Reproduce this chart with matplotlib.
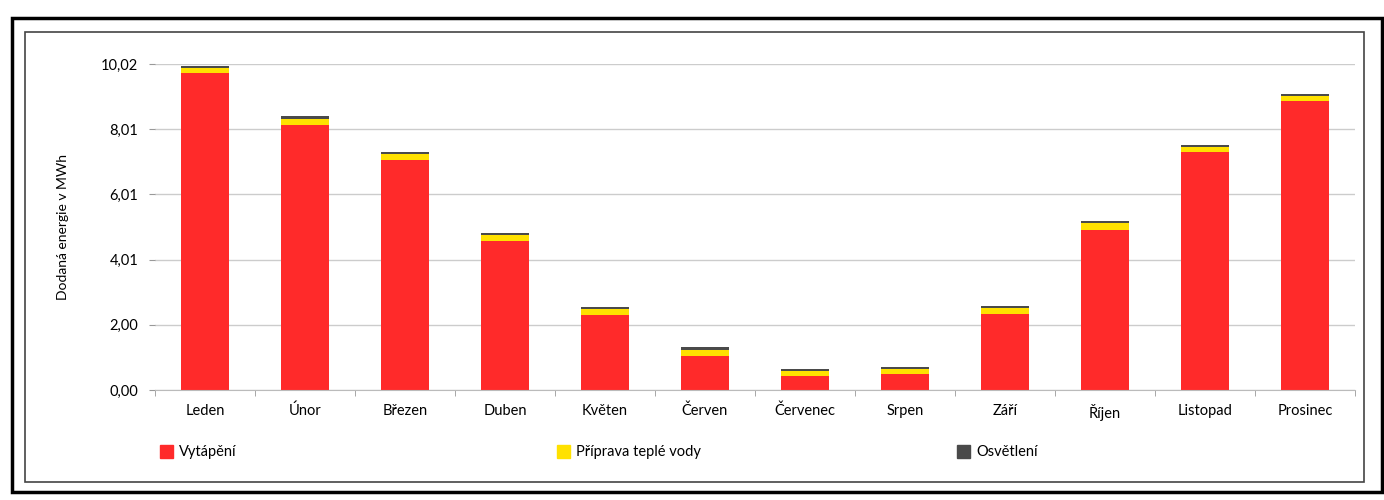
import matplotlib
matplotlib.use("Agg")
import matplotlib.pyplot as plt
from matplotlib.patches import Rectangle

plt.rcParams['font.family'] = ['Lato', 'DejaVu Sans']

# data (MWh)
mesice = ['Leden', 'Únor', 'Březen', 'Duben', 'Květen', 'Červen', 'Červenec',
          'Srpen', 'Září', 'Říjen', 'Listopad', 'Prosinec']
vytapeni = [9.73, 8.13, 7.07, 4.57, 2.31, 1.03, 0.42, 0.48, 2.34, 4.93, 7.30, 8.88]
tepla_voda = [0.17, 0.21, 0.19, 0.19, 0.18, 0.20, 0.17, 0.17, 0.18, 0.19, 0.18, 0.16]
osvetleni = [0.06, 0.07, 0.06, 0.06, 0.06, 0.08, 0.06, 0.07, 0.06, 0.07, 0.06, 0.06]

y_ticks = [0.0, 2.004, 4.008, 6.012, 8.016, 10.02]
y_labels = ['0,00', '2,00', '4,01', '6,01', '8,01', '10,02']

barvy = ['#ff2a2a', '#ffe100', '#4a4a4a']
nazvy = ['Vytápění', 'Příprava teplé vody', 'Osvětlení']

W, H = 1384, 500
fig = plt.figure(figsize=(W / 100, H / 100), dpi=100)

# ramecky ze skenu
fig.patches.append(Rectangle((12 / W, 8 / H), (W - 14) / W, (H - 26) / H,
                             transform=fig.transFigure, fill=False,
                             edgecolor='black', linewidth=2.5))
fig.patches.append(Rectangle((25 / W, 18 / H), (W - 45) / W, (H - 50) / H,
                             transform=fig.transFigure, fill=False,
                             edgecolor='#444444', linewidth=1.2))

ax = fig.add_axes([155 / W, (H - 390) / H, 1200 / W, (390 - 64) / H])

x = range(len(mesice))
bottom2 = [a + b for a, b in zip(vytapeni, tepla_voda)]
ax.bar(x, vytapeni, width=0.48, color=barvy[0], zorder=3)
ax.bar(x, tepla_voda, width=0.48, bottom=vytapeni, color=barvy[1], zorder=3)
ax.bar(x, osvetleni, width=0.48, bottom=bottom2, color=barvy[2], zorder=3)

ax.set_xlim(-0.5, len(mesice) - 0.5)
ax.set_ylim(0, 10.02)
ax.set_yticks(y_ticks)
ax.set_yticklabels(y_labels, fontsize=10.5)
ax.set_xticks(list(x))
ax.set_xticklabels(mesice, fontsize=10.5)
ax.tick_params(axis='x', length=0, pad=10)
ax.tick_params(axis='y', length=4, color='#999999', pad=8)

# drobne carky mezi kategoriemi
ax.set_xticks([i - 0.5 for i in range(len(mesice) + 1)], minor=True)
ax.tick_params(axis='x', which='minor', length=4, color='#999999')

ax.grid(axis='y', color='#cccccc', linewidth=1, zorder=0)
ax.set_axisbelow(True)
for s in ['top', 'right', 'left']:
    ax.spines[s].set_visible(False)
ax.spines['bottom'].set_color('#bbbbbb')
ax.spines['bottom'].set_zorder(4)

ax.set_ylabel('Dodaná energie v MWh', fontsize=10)
ax.yaxis.set_label_coords(-0.072, 0.5)

# legenda jako v puvodnim grafu
leg_x = [160, 557, 957]
for px, barva, nazev in zip(leg_x, barvy, nazvy):
    fig.patches.append(Rectangle((px / W, (H - 458) / H), 13 / W, 13 / H,
                                 transform=fig.transFigure, color=barva))
    fig.text((px + 19) / W, (H - 452) / H, nazev, fontsize=10.5, va='center')

fig.savefig('out.png', dpi=100)
